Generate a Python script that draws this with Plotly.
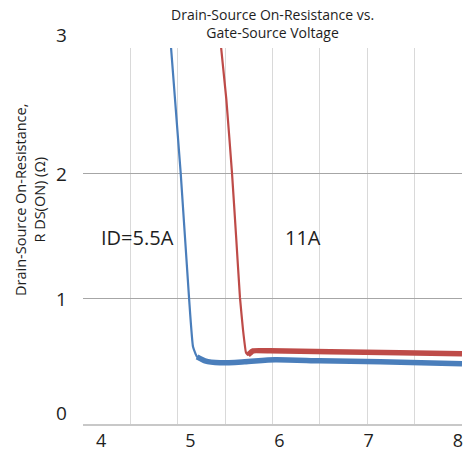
import plotly.graph_objects as go

# Data
blue_x = [4.784, 4.893, 4.986, 5.031, 5.076, 5.165, 5.333, 5.61, 5.95, 6.45, 7.13, 8.045]
blue_y = [3.008, 2.0, 1.008, 0.616, 0.536, 0.504, 0.488, 0.496, 0.512, 0.504, 0.496, 0.48]
red_x = [5.345, 5.404, 5.468, 5.513, 5.557, 5.591, 5.625, 5.647, 5.703, 5.894, 6.566, 7.35, 8.045]
red_y = [3.008, 2.592, 2.0, 1.504, 1.008, 0.752, 0.568, 0.552, 0.584, 0.584, 0.576, 0.568, 0.56]
x_ticks = [4, 5, 6, 7, 8]
y_ticks = [0, 1, 2, 3]
labels = ["ID=5.5A", "11A"]
label_x = [4.41, 6.26]
label_y = [1.49, 1.49]

BLUE = "#4a7ebb"
RED = "#be4b48"
FONT = "Open Sans, Noto Sans, sans-serif"
TXT = "#1e1e1e"

X_RANGE = [3.798, 8.045]
L, R, T, B = 83, 5, 48, 31
W, H = 467, 455
PW, PH = W - L - R, H - T - B

blue_knee = 4
red_knee = 7

fig = go.Figure()
fig.add_trace(go.Scatter(x=blue_x, y=blue_y, mode="lines",
                         line=dict(color=BLUE, width=2.2, shape="spline", smoothing=0.4),
                         showlegend=False, hoverinfo="skip"))
fig.add_trace(go.Scatter(x=blue_x[blue_knee:], y=blue_y[blue_knee:], mode="lines",
                         line=dict(color=BLUE, width=5.5, shape="spline", smoothing=0.6),
                         showlegend=False, hoverinfo="skip"))
fig.add_trace(go.Scatter(x=red_x, y=red_y, mode="lines",
                         line=dict(color=RED, width=2.2, shape="spline", smoothing=0.3),
                         showlegend=False, hoverinfo="skip"))
fig.add_trace(go.Scatter(x=red_x[red_knee:], y=red_y[red_knee:], mode="lines",
                         line=dict(color=RED, width=5.5, shape="spline", smoothing=0.3),
                         showlegend=False, hoverinfo="skip"))

annotations = []
for t, xx, yy in zip(labels, label_x, label_y):
    annotations.append(dict(x=xx, y=yy, xref="x", yref="y", text=t, showarrow=False,
                            font=dict(size=20, color=TXT, family=FONT)))
# y tick labels (offsets mimic the reference placement)
y_shifts = [11, 0, -1, 13]
for v, s in zip(y_ticks, y_shifts):
    annotations.append(dict(x=0, y=v, xref="paper", yref="y", text=str(v), showarrow=False,
                            xanchor="right", yanchor="middle", xshift=-14, yshift=s,
                            font=dict(size=19, color=TXT, family=FONT)))
annotations.append(dict(x=(30 - L) / PW, y=(H - B - 200) / PH, xref="paper", yref="paper",
                        text="Drain-Source On-Resistance,<br>R DS(ON) (Ω)",
                        xanchor="center", yanchor="middle",
                        showarrow=False, textangle=-90, font=dict(size=14.5, color=TXT, family=FONT)))
annotations.append(dict(x=(272 - L) / PW, y=1 + (T - 23) / PH, xref="paper", yref="paper",
                        text="Drain-Source On-Resistance vs.<br>Gate-Source Voltage",
                        xanchor="center", yanchor="middle", showarrow=False,
                        font=dict(size=14, color=TXT, family=FONT)))

fig.update_layout(
    width=W, height=H,
    margin=dict(l=L, r=R, t=T, b=B, autoexpand=False),
    paper_bgcolor="white", plot_bgcolor="white",
    xaxis=dict(range=X_RANGE, tickvals=x_ticks, ticktext=[str(v) for v in x_ticks],
               automargin=False, showgrid=False, zeroline=False, showline=True,
               linecolor="#c8c8c8", linewidth=1.5,
               ticks="", tickfont=dict(size=18, color=TXT, family=FONT), ticklabelstandoff=0,
               minor=dict(tickmode="linear", tick0=X_RANGE[0], dtick=(X_RANGE[1] - X_RANGE[0]) / 8,
                          showgrid=True, gridcolor="#d9d9d9", gridwidth=1.3, ticks="")),
    yaxis=dict(range=[0, 3], tickvals=y_ticks, showticklabels=False, automargin=False,
               showgrid=True, gridcolor="#a6a6a6", gridwidth=1.3, zeroline=False, showline=False,
               ticks=""),
    annotations=annotations,
)

fig.write_html("out.html", config={"displayModeBar": False},
               post_script="document.body.style.margin='0';document.body.style.overflow='hidden';")
